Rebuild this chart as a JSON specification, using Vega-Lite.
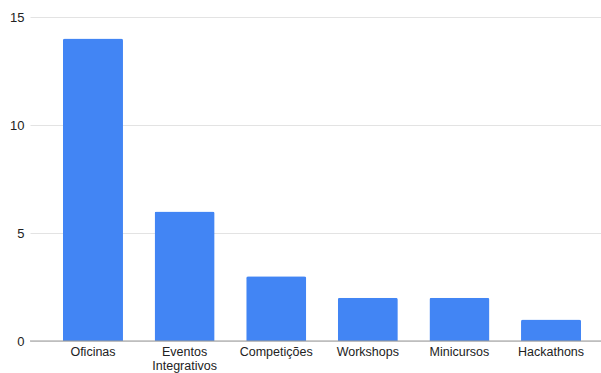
{
  "$schema": "https://vega.github.io/schema/vega-lite/v6.json",
  "autosize": {"type": "none"},
  "padding": {"left": 30, "top": 17, "right": 0, "bottom": 32},
  "width": 584,
  "height": 324,
  "background": "white",
  "config": {
    "view": {"stroke": null},
    "font": "Liberation Sans"
  },
  "data": {
    "values": [
      {"categoria": "Oficinas", "valor": 14},
      {"categoria": "Eventos Integrativos", "valor": 6},
      {"categoria": "Competições", "valor": 3},
      {"categoria": "Workshops", "valor": 2},
      {"categoria": "Minicursos", "valor": 2},
      {"categoria": "Hackathons", "valor": 1}
    ]
  },
  "layer": [
    {
      "mark": {"type": "bar", "color": "#4285F4", "cornerRadiusTopLeft": 2, "cornerRadiusTopRight": 2},
      "encoding": {
        "x": {
          "field": "categoria",
          "type": "nominal",
          "sort": null,
          "scale": {"paddingInner": 0.345, "paddingOuter": 0.36},
          "axis": {
            "title": null,
            "labelAngle": 0,
            "ticks": false,
            "domain": false,
            "labelPadding": 4,
            "labelFontSize": 12.5,
            "labelColor": "#222222",
            "labelLineHeight": 14,
            "labelExpr": "datum.label == 'Eventos Integrativos' ? ['Eventos', 'Integrativos'] : datum.label"
          }
        },
        "y": {
          "field": "valor",
          "type": "quantitative",
          "scale": {"domain": [0, 15], "nice": false, "zero": true},
          "axis": {
            "title": null,
            "values": [0, 5, 10, 15],
            "ticks": false,
            "domain": false,
            "labelPadding": 6,
            "labelFontSize": 13,
            "labelColor": "#222222",
            "gridColor": "#e3e3e3",
            "gridWidth": 1
          }
        }
      }
    },
    {
      "mark": {"type": "rule", "color": "#999999", "strokeWidth": 1},
      "data": {"values": [{"y": 0}]},
      "encoding": {"y": {"field": "y", "type": "quantitative"}}
    }
  ]
}
